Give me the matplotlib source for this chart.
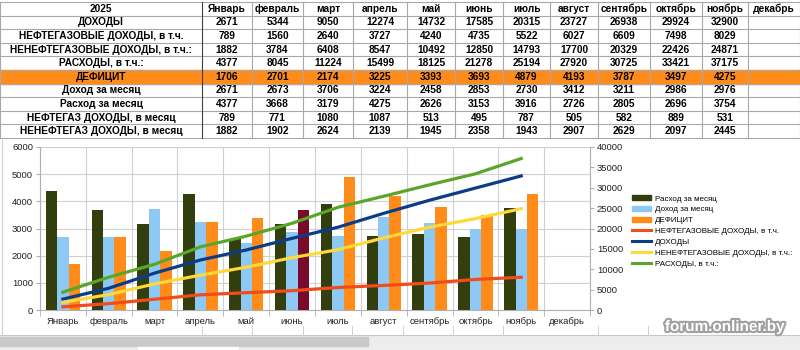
import matplotlib
matplotlib.use("Agg")
import matplotlib.pyplot as plt
import matplotlib.patheffects as pe
from matplotlib.patches import Rectangle, Patch
from matplotlib.lines import Line2D
import numpy as np

plt.rcParams['font.family'] = ['Liberation Sans', 'DejaVu Sans']

year_label = "2025"
months = ["Январь", "февраль", "март", "апрель", "май", "июнь", "июль",
          "август", "сентябрь", "октябрь", "ноябрь", "декабрь"]

row_labels = ["ДОХОДЫ", "НЕФТЕГАЗОВЫЕ ДОХОДЫ, в т.ч.", "НЕНЕФТЕГАЗОВЫЕ ДОХОДЫ, в т.ч.:",
              "РАСХОДЫ, в т.ч.:", "ДЕФИЦИТ", "Доход за месяц", "Расход за месяц",
              "НЕФТЕГАЗ ДОХОДЫ, в месяц", "НЕНЕФТЕГАЗ ДОХОДЫ, в месяц"]

dohody = [2671, 5344, 9050, 12274, 14732, 17585, 20315, 23727, 26938, 29924, 32900]
neftegaz = [789, 1560, 2640, 3727, 4240, 4735, 5522, 6027, 6609, 7498, 8029]
neneftegaz = [1882, 3784, 6408, 8547, 10492, 12850, 14793, 17700, 20329, 22426, 24871]
rashody = [4377, 8045, 11224, 15499, 18125, 21278, 25194, 27920, 30725, 33421, 37175]
deficit = [1706, 2701, 2174, 3225, 3393, 3693, 4879, 4193, 3787, 3497, 4275]
dohod_month = [2671, 2673, 3706, 3224, 2458, 2853, 2730, 3412, 3211, 2986, 2976]
rashod_month = [4377, 3668, 3179, 4275, 2626, 3153, 3916, 2726, 2805, 2696, 3754]
neftegaz_month = [789, 771, 1080, 1087, 513, 495, 787, 505, 582, 889, 531]
neneftegaz_month = [1882, 1902, 2624, 2139, 1945, 2358, 1943, 2907, 2629, 2097, 2445]

table_rows = [dohody, neftegaz, neneftegaz, rashody, deficit,
              dohod_month, rashod_month, neftegaz_month, neneftegaz_month]

c_dark = '#323E0E'
c_lblue = '#8EC8F5'
c_orange = '#FF8C1A'
c_maroon = '#7A0A2A'
c_red = '#F24C1A'
c_blue = '#0C3C86'
c_yellow = '#FFD83A'
c_green = '#5BA52A'

W, H = 800, 350
fig = plt.figure(figsize=(8, 3.5), dpi=100)

bg = fig.add_axes([0, 0, 1, 1])
bg.set_xlim(0, W)
bg.set_ylim(H, 0)
bg.axis('off')

# ---- table ----
col_edges = [0, 202, 252, 303, 353, 407, 455, 503, 550, 598, 650, 702, 748, 800]
n_rows = 10
top, bottom = 2, 138
row_h = (bottom - top) / n_rows
row_edges = [top + i * row_h for i in range(n_rows + 1)]

defi_idx = 5
bg.add_patch(Rectangle((0, row_edges[defi_idx]), W, row_h, color=c_orange, zorder=1))

for y in row_edges:
    bg.plot([0, W], [y, y], color='#A8A8A8', lw=0.8, zorder=2)
for x in col_edges:
    col = '#404040' if x == 202 else '#A8A8A8'
    bg.plot([x, x], [top, bottom], color=col, lw=0.8, zorder=2)

def cell_center(r, c):
    return (col_edges[c] + col_edges[c + 1]) / 2, (row_edges[r] + row_edges[r + 1]) / 2

fs_t = 7.3
x, y = cell_center(0, 0)
bg.text(x, y, year_label, ha='center', va='center', fontsize=fs_t, fontweight='bold', zorder=3)
for j, m in enumerate(months):
    x, y = cell_center(0, j + 1)
    bg.text(x, y, m, ha='center', va='center', fontsize=fs_t, fontweight='bold', zorder=3)
for i, (lab, vals) in enumerate(zip(row_labels, table_rows)):
    x, y = cell_center(i + 1, 0)
    bg.text(x, y, lab, ha='center', va='center', fontsize=fs_t, fontweight='bold', zorder=3)
    for j, v in enumerate(vals):
        x, y = cell_center(i + 1, j + 1)
        bg.text(x, y, str(v), ha='center', va='center', fontsize=fs_t, fontweight='bold', zorder=3)

# ---- bottom decorations ----
bg.plot([0, W], [335, 335], color='#C8C8C8', lw=0.8)
for x in [202, 252, 303, 352, 403, 453, 503, 598, 648]:
    bg.plot([x, x], [326, 335], color='#D0D0D0', lw=0.7)
bg.add_patch(Rectangle((0, 336), W, 14, color='#EDEDED', zorder=1))
bg.add_patch(Rectangle((0, 337), 368, 9, color='#C9C9C9', zorder=2))
bg.add_patch(Rectangle((138, 347), 100, 3, color='#FFFFFF', zorder=2))
bg.plot([2, 2], [140, 335], color='#D0D0D0', lw=0.8)

bg.text(725, 327, "forum.onliner.by", ha='center', va='center', fontsize=11,
        fontweight='bold', color='white', zorder=5,
        path_effects=[pe.withStroke(linewidth=3, foreground='#A0A0A0')])

# ---- chart ----
ax = fig.add_axes([40 / W, 1 - 310 / H, 550 / W, 163 / H])
ax2 = ax.twinx()
x_all = np.arange(len(months))
n = len(deficit)
xi = np.arange(n)
bw = 0.25
ax.bar(xi - bw, rashod_month, bw, color=c_dark, zorder=3)
ax.bar(xi, dohod_month, bw, color=c_lblue, zorder=3)
bar_colors = [c_orange] * n
bar_colors[months.index("июнь")] = c_maroon
ax.bar(xi + bw, deficit, bw, color=bar_colors, zorder=3)

ax.set_xlim(-0.5, len(months) - 0.5)
ax.set_ylim(0, 6000)
ax.set_yticks(np.arange(0, 6001, 1000))
ax.set_xticks(x_all)
ax.set_xticklabels(months)
ax.set_xticks(np.arange(-0.5, len(months), 1), minor=True)
ax.tick_params(axis='x', which='major', length=0, labelsize=6.8, pad=5, colors='#222222')
ax.tick_params(axis='x', which='minor', length=4, color='#B0B0B0')
ax.tick_params(axis='y', labelsize=6.8, length=3, color='#B0B0B0', colors='#222222', pad=2)
ax.grid(True, axis='y', color='#D0D0D0', lw=0.8, zorder=0)
ax.grid(True, axis='x', which='minor', color='#D0D0D0', lw=0.8, zorder=0)
for s in ['top', 'right']:
    ax.spines[s].set_visible(False)
for s in ['left', 'bottom']:
    ax.spines[s].set_color('#B0B0B0')

ax2.plot(xi, neftegaz, color=c_red, lw=2.3, zorder=4)
ax2.plot(xi, dohody, color=c_blue, lw=2.3, zorder=4)
ax2.plot(xi, neneftegaz, color=c_yellow, lw=2.3, zorder=4)
ax2.plot(xi, rashody, color=c_green, lw=2.3, zorder=4)
ax2.set_ylim(0, 40000)
ax2.set_yticks(np.arange(0, 40001, 5000))
ax2.tick_params(axis='y', labelsize=6.8, length=3, color='#B0B0B0', colors='#222222', pad=2)
for s in ['top', 'left', 'bottom']:
    ax2.spines[s].set_visible(False)
ax2.spines['right'].set_color('#B0B0B0')

handles = [Patch(color=c_dark), Patch(color=c_lblue), Patch(color=c_orange),
           Line2D([], [], color=c_red, lw=2.2), Line2D([], [], color=c_blue, lw=2.2),
           Line2D([], [], color=c_yellow, lw=2.2), Line2D([], [], color=c_green, lw=2.2)]
labels = ["Расход за месяц", "Доход за месяц", "ДЕФИЦИТ",
          "НЕФТЕГАЗОВЫЕ ДОХОДЫ, в т.ч.", "ДОХОДЫ",
          "НЕНЕФТЕГАЗОВЫЕ ДОХОДЫ, в т.ч.:", "РАСХОДЫ, в т.ч.:"]
fig.legend(handles, labels, loc='upper left', bbox_to_anchor=(632 / W, 1 - 195 / H),
           frameon=False, fontsize=5.8, handlelength=2.4, handleheight=0.65,
           labelspacing=0.42, handletextpad=0.4, borderpad=0, borderaxespad=0)

fig.savefig("out.png", dpi=100)
